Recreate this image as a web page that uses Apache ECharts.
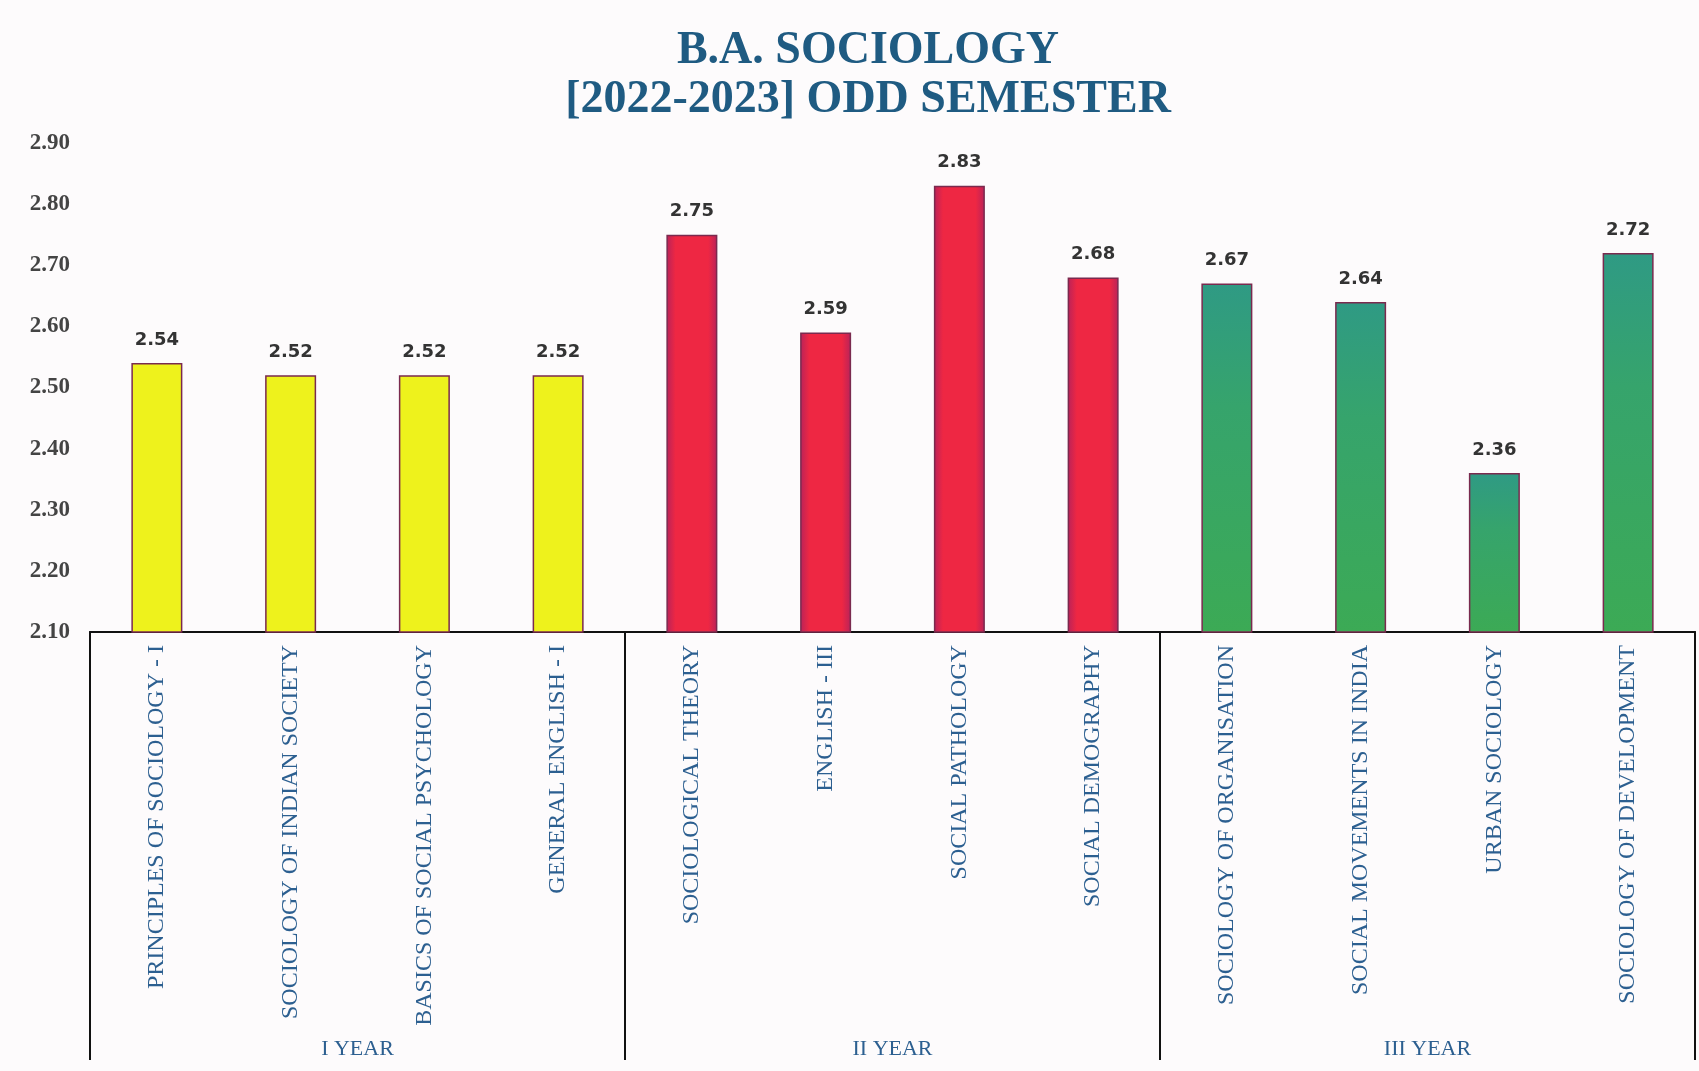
<!DOCTYPE html>
<html>
<head>
<meta charset="utf-8">
<title>B.A. Sociology</title>
<script src="https://cdn.jsdelivr.net/npm/echarts@6/dist/echarts.min.js"></script>
<style>
  html, body { margin: 0; padding: 0; background: #fdfbfc; }
  #chart { width: 1699px; height: 1071px; }
</style>
</head>
<body>
<div id="chart"></div>
<script>
// subjects, in order along the x axis
const categories = [
  'PRINCIPLES OF SOCIOLOGY - I',
  'SOCIOLOGY OF INDIAN SOCIETY',
  'BASICS OF SOCIAL PSYCHOLOGY',
  'GENERAL ENGLISH - I',
  'SOCIOLOGICAL THEORY',
  'ENGLISH - III',
  'SOCIAL PATHOLOGY',
  'SOCIAL DEMOGRAPHY',
  'SOCIOLOGY OF ORGANISATION',
  'SOCIAL MOVEMENTS IN INDIA',
  'URBAN SOCIOLOGY',
  'SOCIOLOGY OF DEVELOPMENT'
]
const values = [2.54, 2.52, 2.52, 2.52, 2.75, 2.59, 2.83, 2.68, 2.67, 2.64, 2.36, 2.72]
const years = ['I YEAR', 'II YEAR', 'III YEAR']
const yearOfSubject = [0, 0, 0, 0, 1, 1, 1, 1, 2, 2, 2, 2]

// one fill per year
const yearFill = [
  '#eef21c',
  new echarts.graphic.LinearGradient(0, 0, 1, 0, [
    { offset: 0, color: '#b8225a' },
    { offset: 0.18, color: '#ee2743' },
    { offset: 0.82, color: '#ee2743' },
    { offset: 1, color: '#b8225a' }
  ]),
  new echarts.graphic.LinearGradient(0, 0, 0, 1, [
    { offset: 0, color: '#2f9a84' },
    { offset: 0.35, color: '#36a46c' },
    { offset: 1, color: '#3caa55' }
  ])
]

const chart = echarts.init(document.getElementById('chart'))

const blue = '#2c5f90'
const serif = 'Liberation Serif'

const option = {
  backgroundColor: '#fdfbfc',
  title: {
    text: 'B.A. SOCIOLOGY\n[2022-2023] ODD SEMESTER',
    left: 868,
    top: 27,
    padding: 0,
    textAlign: 'center',
    textStyle: {
      fontFamily: serif,
      fontWeight: 'bold',
      fontSize: 46,
      lineHeight: 49,
      color: '#1f5b82'
    }
  },
  grid: {
    left: 90,
    right: 4,
    top: 143,
    bottom: 439
  },
  xAxis: [
    {
      type: 'category',
      data: categories,
      axisLine: { lineStyle: { color: '#111', width: 2 } },
      axisTick: { show: false },
      axisLabel: {
        interval: 0,
        rotate: 90,
        margin: 13,
        fontFamily: serif,
        fontSize: 24,
        color: blue
      }
    },
    {
      type: 'category',
      data: years,
      position: 'bottom',
      offset: 0,
      axisLine: { lineStyle: { color: '#111', width: 2 } },
      axisTick: { show: true, length: 428, lineStyle: { color: '#111', width: 2 } },
      axisLabel: {
        margin: 406,
        fontFamily: serif,
        fontSize: 22,
        color: blue
      }
    }
  ],
  yAxis: {
    type: 'value',
    min: 2.1,
    max: 2.9,
    interval: 0.1,
    axisLine: { show: false },
    axisTick: { show: false },
    splitLine: { show: false },
    axisLabel: {
      margin: 20,
      fontFamily: serif,
      fontWeight: 'bold',
      fontSize: 23,
      color: '#444',
      formatter: (v) => v.toFixed(2)
    }
  },
  series: [
    {
      type: 'bar',
      xAxisIndex: 0,
      barWidth: 51,
      data: values.map((v, i) => ({
        value: v,
        itemStyle: {
          color: yearFill[yearOfSubject[i]],
          borderColor: '#7a2a4e',
          borderWidth: 1.5
        }
      })),
      label: {
        show: true,
        position: 'top',
        distance: 14,
        fontFamily: 'DejaVu Sans',
        fontWeight: 'bold',
        fontSize: 18,
        color: '#333',
        formatter: (p) => p.value.toFixed(2)
      }
    }
  ]
}

chart.setOption(option)
</script>
</body>
</html>
